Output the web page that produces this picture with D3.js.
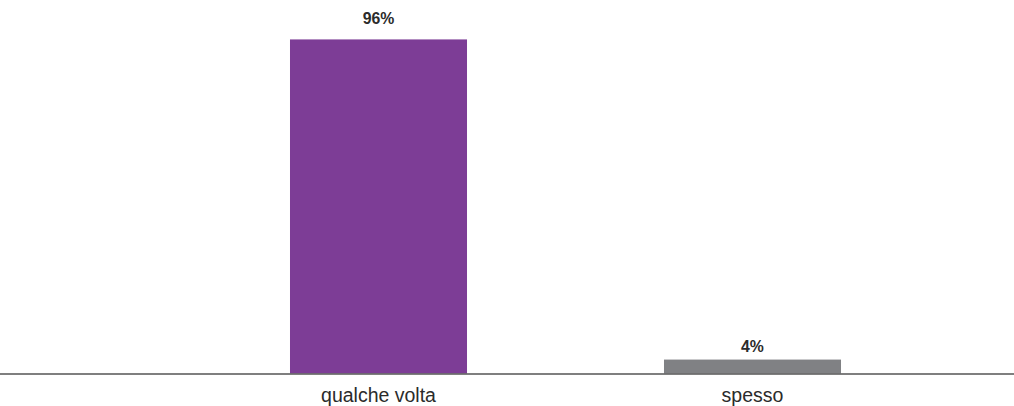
<!DOCTYPE html>
<html><head><meta charset="utf-8">
<script src="https://cdn.jsdelivr.net/npm/d3@7"></script>
<style>body{margin:0;background:#fff}svg{display:block}text{font-family:"Liberation Sans",Arial,sans-serif}</style>
</head><body>
<script>
const categories = ["qualche volta", "spesso"];
const values = [96, 4];
const valueLabels = ["96%", "4%"];
const colors = ["#7d3d96", "#808184"];

const W = 1014, H = 406;
const svg = d3.select("body").append("svg").attr("width", W).attr("height", H);

const x = d3.scaleBand().domain(categories).range([191.5, 939.5]).paddingInner(0.5267).paddingOuter(0.26335);
const y = d3.scaleLinear().domain([0, 100]).range([373.5, 25.5]);

svg.selectAll("rect.bar").data(values).join("rect")
  .attr("x", (d, i) => x(categories[i]))
  .attr("y", d => y(d))
  .attr("width", x.bandwidth())
  .attr("height", d => y(0) - y(d))
  .attr("fill", (d, i) => colors[i]);

svg.selectAll("text.val").data(values).join("text")
  .attr("x", (d, i) => x(categories[i]) + x.bandwidth() / 2)
  .attr("y", d => y(d) - (d > 50 ? 15.8 : 7.4))
  .attr("text-anchor", "middle")
  .attr("font-weight", "bold")
  .attr("font-size", 15.8)
  .attr("fill", "#2b2b2b")
  .text((d, i) => valueLabels[i]);

const axis = d3.axisBottom(x).tickSize(0).tickPadding(0);
const g = svg.append("g").attr("transform", `translate(0,${y(0)})`).call(axis);
g.select(".domain").remove();
g.selectAll("text").attr("dy", null).attr("y", 28.5)
  .attr("font-size", 19.5).attr("fill", "#2b2b2b").attr("font-family", '"Liberation Sans",Arial,sans-serif');
svg.append("line").attr("x1", 0).attr("x2", W).attr("y1", y(0) + 0.5).attr("y2", y(0) + 0.5)
  .attr("stroke", "#555").attr("stroke-width", 1.4);
</script>
</body></html>
